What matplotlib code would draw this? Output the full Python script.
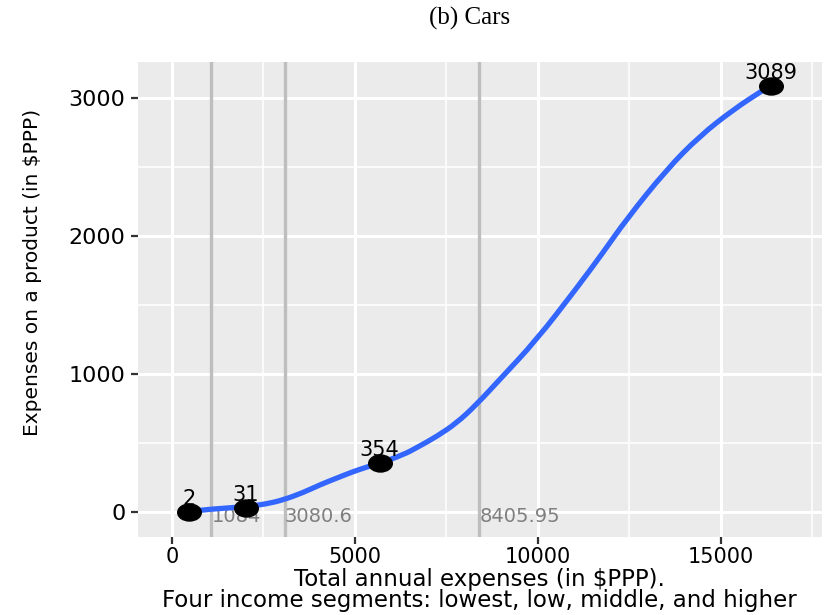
import numpy as np
import matplotlib
matplotlib.use("Agg")
from matplotlib import pyplot as plt
from matplotlib.path import Path
from matplotlib.patches import PathPatch

plt.rcParams['font.family'] = ['DejaVu Sans']

# observed points (segment means)
pt_x = [464, 2022, 5683, 16366]
pt_y = [2, 31, 354, 3089]
pt_lab = ['2', '31', '354', '3089']

# smoothed curve
curve_x = [464, 1038, 2040, 2587, 3042, 3587, 4044, 4495, 4954, 5314,
           5667, 6320, 6776, 7231, 7777, 8325, 8962, 9964, 11057, 11784,
           12421, 13514, 14426, 15336, 16156, 16366]
curve_y = [2, 20, 38, 58, 87, 140, 196, 244, 292, 324,
           353, 413, 478, 546, 643, 778, 960, 1246, 1620, 1880,
           2120, 2480, 2725, 2915, 3058, 3089]

# income segment thresholds
cuts = [1084, 3080.6, 8405.95]
cut_lab = ['1084', '3080.6', '8405.95']

fig = plt.figure(figsize=(8.3, 6.15), dpi=100)
ax = fig.add_axes([0.166, 0.127, 0.824, 0.772])
ax.set_facecolor('#EBEBEB')
for s in ax.spines.values():
    s.set_visible(False)

ax.set_xlim(-929, 17760)
ax.set_ylim(-181, 3261)
ax.set_xticks([0, 5000, 10000, 15000])
ax.set_yticks([0, 1000, 2000, 3000])
ax.set_xticks([2500, 7500, 12500, 17500], minor=True)
ax.set_yticks([500, 1500, 2500], minor=True)
ax.grid(True, which='major', color='white', linewidth=2.2)
ax.grid(True, which='minor', color='white', linewidth=1.1)
ax.set_axisbelow(True)
ax.tick_params(which='major', length=5, width=1.6, color='#333333',
               labelsize=16, labelcolor='black', pad=4)
ax.tick_params(axis='x', which='major', labelsize=15, pad=2)
ax.tick_params(which='minor', length=0)

for c, lab in zip(cuts, cut_lab):
    ax.axvline(c, color='#BEBEBE', linewidth=2.4, zorder=2)
    ax.text(c, -36, lab, color='#7F7F7F', fontsize=14, ha='left',
            va='center', zorder=3)

# smooth the read points with quadratic pieces through the midpoints
pts = np.column_stack([curve_x, curve_y]).astype(float)
mids = (pts[:-1] + pts[1:]) / 2
verts = [pts[0], mids[0]]
codes = [Path.MOVETO, Path.LINETO]
for i in range(1, len(pts) - 1):
    verts += [pts[i], mids[i]]
    codes += [Path.CURVE3, Path.CURVE3]
verts.append(pts[-1])
codes.append(Path.LINETO)
ax.add_patch(PathPatch(Path(verts, codes), fill=False, edgecolor='#3366FF',
                       linewidth=3.8, capstyle='round', joinstyle='round',
                       zorder=4))

ell = Path.unit_circle()
ell = Path(ell.vertices * [1.0, 0.72], ell.codes)
ax.plot(pt_x, pt_y, linestyle='none', marker=ell, markersize=17,
        color='black', zorder=5)
for x, y, lab in zip(pt_x, pt_y, pt_lab):
    ax.annotate(lab, (x, y), xytext=(0, 2), textcoords='offset points',
                ha='center', va='bottom', fontsize=15, zorder=6)

ax.set_xlabel('Total annual expenses (in $PPP).\n'
              'Four income segments: lowest, low, middle, and higher',
              fontsize=16.5, linespacing=0.88)
ax.xaxis.set_label_coords(0.5, -0.066)
ax.set_ylabel('Expenses on a product (in $PPP)', fontsize=14.5)
ax.yaxis.set_label_coords(-0.14, 0.558)

fig.text(0.566, 0.97, '(b) Cars', fontsize=18, ha='center', va='center',
         family='Liberation Serif')

fig.savefig('out.png', dpi=100)
